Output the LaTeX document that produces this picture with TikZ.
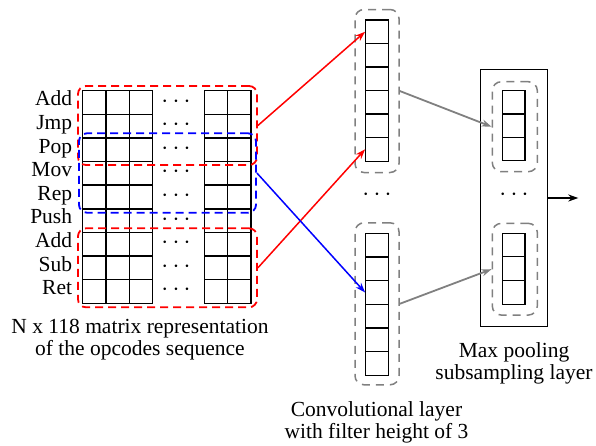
\documentclass[tikz,border=0pt]{standalone}
\usepackage{tikz}
\usepackage{fontspec}
\setmainfont{Liberation Serif}
\usetikzlibrary{arrows.meta}

\begin{document}
\begin{tikzpicture}[x=1pt,y=-1pt,font=\fontsize{21.5}{22}\selectfont,>={Stealth[length=10pt,width=7pt]}]
	\useasboundingbox (0,0) rectangle (596,445);
	\tikzstyle{cell}=[rectangle,draw=black,line width=1.4pt,minimum width=23.4pt,minimum height=23.6pt,inner sep=0pt]
	\tikzstyle{ccell}=[rectangle,draw=black,line width=1.1pt,minimum width=22.6pt,minimum height=23.6pt,inner sep=0pt]
	\tikzstyle{redgrp}=[rectangle,draw=red,line width=1.8pt,rounded corners=8pt,dash pattern=on 8pt off 5pt,inner sep=0pt]
	\tikzstyle{bluegrp}=[redgrp,draw=blue]
	\tikzstyle{greygrp}=[rectangle,draw=gray,line width=1.5pt,rounded corners=9pt,dash pattern=on 8pt off 6pt,inner sep=0pt]
	\tikzstyle{oplabel}=[anchor=east,inner sep=0pt,text height=0.66em,text depth=0pt]
	\tikzstyle{dots}=[inner sep=0pt,font=\fontsize{26}{26}\selectfont]
	% input matrix
	\foreach \lab [count=\i] in {Add,Jmp,Pop,Mov,Rep,Push,Add,Sub,Ret} {
		\pgfmathsetmacro{\y}{102.5+23.62*(\i-1)}
		\node[oplabel](op\i) at (72.3,\y) {\lab};
		\foreach \x [count=\j] in {94.4,117.7,141.0,216.0,239.4}
			\node[cell](m\i-\j) at (\x,\y) {};
		\node[dots](mdots\i) at (176,\y-1) {$\cdots$};
	}
	\node[redgrp,minimum width=179pt,minimum height=79pt](win1) at (167.5,125.5) {};
	\node[bluegrp,minimum width=177pt,minimum height=79.4pt](win2) at (167.5,173) {};
	\node[redgrp,minimum width=179pt,minimum height=79pt](win3) at (167.5,267.8) {};
	% convolutional layer
	\foreach \i in {1,...,6} {
		\node[ccell](ca\i) at (377,{31.75+23.5*(\i-1)}) {};
		\node[ccell](cb\i) at (377,{245.1+23.7*(\i-1)}) {};
	}
	\node[greygrp,minimum width=44pt,minimum height=163pt](fa) at (377,91) {};
	\node[greygrp,minimum width=44pt,minimum height=162pt](fb) at (377,303.8) {};
	\node[dots](cdots) at (377,195) {$\cdots$};
	% max pooling layer
	\node[rectangle,draw=black,line width=1pt,minimum width=66.7pt,minimum height=257.4pt,inner sep=0pt](pool) at (514.3,198) {};
	\foreach \i in {1,2,3} {
		\node[ccell,minimum height=23.3pt](pa\i) at (513.7,{102.35+23.3*(\i-1)}) {};
		\node[ccell](pb\i) at (513.7,{245.1+23.6*(\i-1)}) {};
	}
	\node[greygrp,minimum width=45pt,minimum height=90pt](ga) at (514.8,126.7) {};
	\node[greygrp,minimum width=45pt,minimum height=91.7pt](gb) at (514.8,269.2) {};
	\node[dots](pdots) at (514,195) {$\cdots$};
	\coordinate(out) at (578.3,198);
	% connections
	\draw[->,red,line width=1.5pt](win1.east) -- (ca1.west);
	\draw[->,red,line width=1.5pt](win3.east) -- (ca6.west);
	\draw[->,blue,line width=1.5pt](win2.east) -- (cb3.west);
	\draw[->,gray,line width=1.8pt](fa.east) -- (ga.west);
	\draw[->,gray,line width=1.8pt](fb.east) -- (gb.west);
	\draw[->,line width=1.5pt](pool.east) -- (out);
	% captions
	\node[align=center](capmat) at (140,340) {N x 118 matrix representation\\of the opcodes sequence};
	\node[align=center](capconv) at (376.5,422.5) {Convolutional layer\\with filter height of 3};
	\node[align=center](cappool) at (514,363) {Max pooling\\subsampling layer};
\end{tikzpicture}
\end{document}
